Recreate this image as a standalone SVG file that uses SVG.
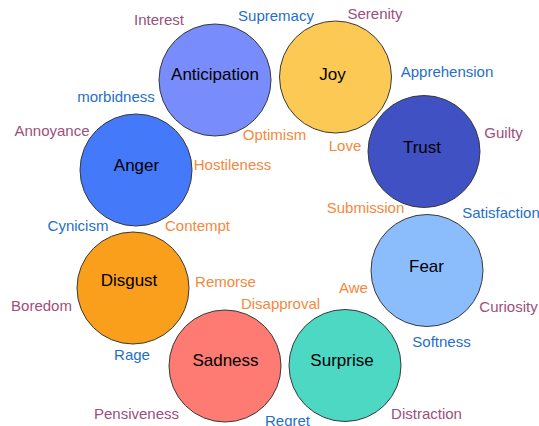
<svg xmlns="http://www.w3.org/2000/svg" width="539" height="426" viewBox="0 0 539 426">
  <style>
    .c { stroke: #3a3a3a; stroke-width: 1; }
    .n { font-family: "Liberation Sans", Arial, sans-serif; font-size: 17px; fill: #000; text-anchor: middle; }
    .l { font-family: "Liberation Sans", Arial, sans-serif; font-size: 15px; text-anchor: middle; }
    .p { fill: #9c4f7c; }
    .b { fill: #1f6fc9; }
    .o { fill: #f5883c; }
  </style>
  <rect width="539" height="426" fill="#ffffff"/>

  <!-- emotion circles -->
  <g id="anticipation">
    <circle class="c" cx="215" cy="80" r="56" fill="#798cfc"/>
    <text class="n" x="215" y="80">Anticipation</text>
  </g>
  <g id="joy">
    <circle class="c" cx="335.5" cy="77" r="56" fill="#fcc955"/>
    <text class="n" x="332.5" y="80">Joy</text>
  </g>
  <g id="trust">
    <circle class="c" cx="424" cy="151.5" r="56" fill="#3f51c3"/>
    <text class="n" x="422" y="153">Trust</text>
  </g>
  <g id="anger">
    <circle class="c" cx="136" cy="170" r="56" fill="#4479f9"/>
    <text class="n" x="136.5" y="170.5">Anger</text>
  </g>
  <g id="disgust">
    <circle class="c" cx="133" cy="288" r="56" fill="#f99f1c"/>
    <text class="n" x="129" y="285.5">Disgust</text>
  </g>
  <g id="sadness">
    <circle class="c" cx="225" cy="366" r="56" fill="#fe7b74"/>
    <text class="n" x="225.5" y="366">Sadness</text>
  </g>
  <g id="surprise">
    <circle class="c" cx="345" cy="365.5" r="56" fill="#4dd8c3"/>
    <text class="n" x="342" y="366">Surprise</text>
  </g>
  <g id="fear">
    <circle class="c" cx="427" cy="270.5" r="56" fill="#8bbdfd"/>
    <text class="n" x="426.5" y="272">Fear</text>
  </g>

  <!-- surrounding labels -->
  <g id="labels">
    <text class="l p" x="159" y="25">Interest</text>
    <text class="l b" x="276" y="21">Supremacy</text>
    <text class="l p" x="375" y="18.5">Serenity</text>
    <text class="l b" x="447" y="77">Apprehension</text>
    <text class="l b" x="116" y="102">morbidness</text>
    <text class="l p" x="52" y="136">Annoyance</text>
    <text class="l o" x="274.5" y="140">Optimism</text>
    <text class="l o" x="345" y="150.5">Love</text>
    <text class="l p" x="503.5" y="138">Guilty</text>
    <text class="l o" x="232.5" y="170">Hostileness</text>
    <text class="l o" x="365.5" y="213">Submission</text>
    <text class="l b" x="501" y="218">Satisfaction</text>
    <text class="l b" x="78" y="231">Cynicism</text>
    <text class="l o" x="197.5" y="231">Contempt</text>
    <text class="l o" x="225.5" y="287">Remorse</text>
    <text class="l o" x="280.5" y="308.5">Disapproval</text>
    <text class="l o" x="353.5" y="292.5">Awe</text>
    <text class="l p" x="508.5" y="312">Curiosity</text>
    <text class="l p" x="41.5" y="311">Boredom</text>
    <text class="l b" x="132" y="359.5">Rage</text>
    <text class="l b" x="441.5" y="347">Softness</text>
    <text class="l p" x="136.5" y="418.5">Pensiveness</text>
    <text class="l b" x="287.5" y="425.5">Regret</text>
    <text class="l p" x="426.5" y="418.5">Distraction</text>
  </g>
</svg>
